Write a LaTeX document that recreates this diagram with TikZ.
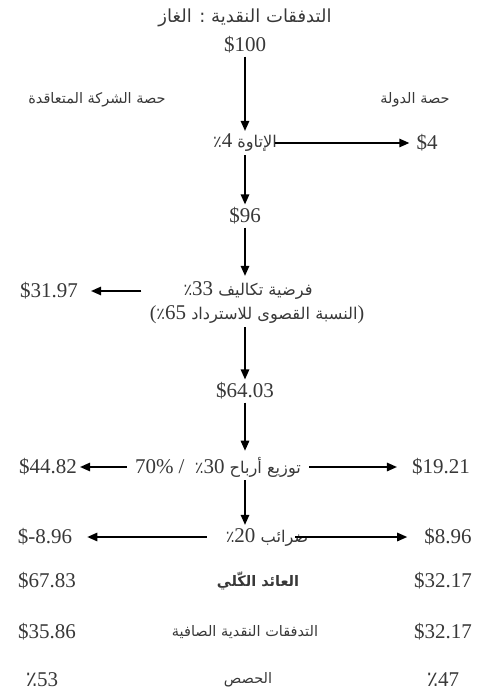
\documentclass[tikz,border=0pt]{standalone}
\usepackage{fontspec}
\setmainfont{Liberation Serif}
\newfontfamily\arfont[Script=Arabic]{DejaVu Sans}
\TeXXeTstate=1
\usetikzlibrary{arrows.meta}
\newcommand\numsz{\fontsize{21}{25}\selectfont}
\newcommand\arsz{\fontsize{16.2}{19}\selectfont}
\newcommand\hdrsz{\fontsize{14.5}{18}\selectfont}
\newcommand\ttlsz{\fontsize{18}{22}\selectfont}
\newcommand\pc{\hbox{\arfont ٪}}
\newcommand\N[1]{{\rmfamily\numsz #1}}
\newcommand\Paren[1]{\hbox{\rmfamily\fontsize{20}{24}\selectfont #1}}
\newcommand\AR[1]{{\arfont\arsz\beginR #1\endR}}
\begin{document}
\begin{tikzpicture}[x=1pt,y=-1pt,
  txt/.style={inner sep=3pt, text=black!78, font=\numsz},
  arr/.style={-{Triangle[length=10pt,width=8.5pt]}, line width=1.4pt}]
\useasboundingbox (0,0) rectangle (477,700);
% title and headers
\node[txt] (title) at (245,18) {{\arfont\ttlsz\beginR التدفقات النقدية : الغاز\endR}};
\node[txt] (v100) at (245,45) {\$100};
\node[txt] (lhdr) at (97,100) {{\arfont\hdrsz\beginR حصة الشركة المتعاقدة\endR}};
\node[txt] (rhdr) at (415,100) {{\arfont\hdrsz\beginR حصة الدولة\endR}};
% royalty
\node[txt] (roy) at (245,143) {\AR{الإتاوة \beginL\pc\N{4}\endL}};
\node[txt] (v4) at (427,143) {\$4};
\node[txt] (v96) at (245,216) {\$96};
% cost
\node[txt] (costa) at (248,291) {\AR{فرضية تكاليف \beginL\pc\N{33}\endL}};
\node[txt] (costb) at (257,315) {\AR{\Paren{)}النسبة القصوى للاسترداد \beginL\Paren{(}\pc\N{65}\endL}};
\node[txt] (v3197) at (49,291) {\$31.97};
\node[txt] (v6403) at (245,391) {\$64.03};
% profit
\node[txt] (profit) at (218,467) {\AR{توزيع أرباح \beginL\pc\N{30}\endL\ \ \beginL\N{/}\endL{} \beginL\N{70\%}\endL}};
\node[txt] (v4482) at (48,467) {\$44.82};
\node[txt] (v1921) at (441,467) {\$19.21};
% tax
\node[txt] (tax) at (267,537) {\AR{ضرائب \beginL\pc\N{20}\endL}};
\node[txt] (vm896) at (45,537) {\$-8.96};
\node[txt] (v896) at (448,537) {\$8.96};
% totals
\node[txt] (v6783) at (47,581) {\$67.83};
\node[txt] (total) at (258,581) {{\arfont\hdrsz\bfseries\beginR العائد الكّلي\endR}};
\node[txt] (v3217a) at (443,581) {\$32.17};
\node[txt] (v3586) at (47,632) {\$35.86};
\node[txt] (net) at (245,632) {{\arfont\hdrsz\beginR التدفقات النقدية الصافية\endR}};
\node[txt] (v3217b) at (443,632) {\$32.17};
\node[txt] (p53) at (42,680) {\beginL\pc\N{53}\endL};
\node[txt] (shares) at (248,680) {{\arfont\hdrsz\beginR الحصص\endR}};
\node[txt] (p47) at (443,680) {\beginL\pc\N{47}\endL};
% vertical spine
\draw[arr] (v100.south) -- (v100.south |- roy.north);
\draw[arr] (v100.south |- roy.south) -- (v100.south |- v96.north);
\draw[arr] (v96.south) -- ([yshift=3pt]v96.south |- costa.north);
\draw[arr] (v96.south |- costb.south) -- (v96.south |- v6403.north);
\draw[arr] (v6403.south) -- ([yshift=3pt]v6403.south |- profit.north);
\draw[arr] (v6403.south |- profit.south) -- (v6403.south |- tax.north);
% horizontal arrows
\draw[arr] ([xshift=-5pt]roy.east) -- ([xshift=-4pt]v4.west);
\draw[arr] ([xshift=-39pt]costa.west) -- ([xshift=10pt]v3197.east);
\draw[arr] ([xshift=-5pt]profit.west) -- (v4482.east);
\draw[arr] ([xshift=5pt]profit.east) -- ([xshift=-12pt]v1921.west);
\draw[arr] ([xshift=-16pt]tax.west) -- ([xshift=12pt]vm896.east);
\draw[arr] ([xshift=-16pt]tax.east) -- ([xshift=-14pt]v896.west);
\end{tikzpicture}
\end{document}
